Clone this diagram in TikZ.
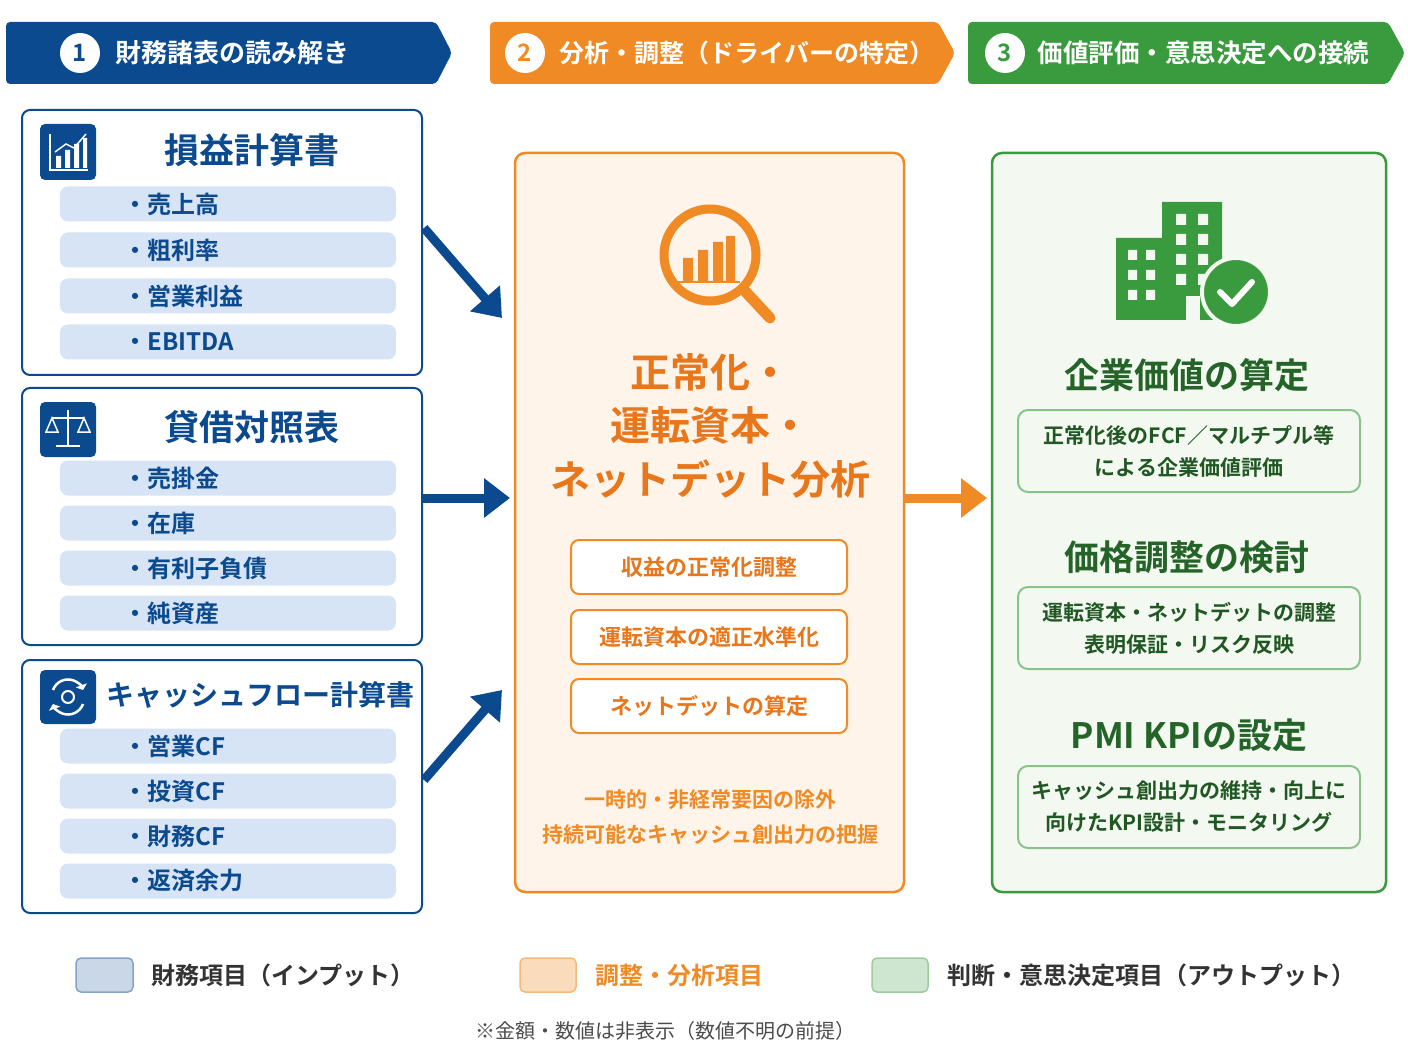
\documentclass[tikz,border=0pt]{standalone}
\usepackage{fontspec}
\setmainfont{Noto Sans CJK JP}[BoldFont={Noto Sans CJK JP Bold}]
\usetikzlibrary{arrows.meta,shapes.geometric}
\definecolor{nb}{HTML}{0B4A8F}
\definecolor{no}{HTML}{F08A24}
\definecolor{ng}{HTML}{3A9A3E}
\definecolor{lb}{HTML}{D6E4F5}
\definecolor{lo}{HTML}{FFF4EA}
\definecolor{lg}{HTML}{F3F9F1}
\definecolor{to}{HTML}{E8761A}
\definecolor{tg}{HTML}{2E7D32}
\newcommand{\fs}[1]{\fontsize{#1}{#1}\selectfont\bfseries}
\begin{document}
\begin{tikzpicture}[x=1pt,y=-1pt,
 item/.style={fill=lb,rounded corners=8pt,minimum width=336pt,minimum height=35pt,anchor=center},
 itemt/.style={font=\fs{24},text=nb,anchor=west},
 lbox/.style={draw=nb,line width=2pt,rounded corners=8pt,fill=white},
 ltitle/.style={font=\fs{35},text=nb},
 obox/.style={draw=no,line width=2pt,rounded corners=8pt,fill=white,minimum width=276pt,minimum height=54pt,font=\fs{22},text=to},
 gbox/.style={draw=ng!60,line width=2pt,rounded corners=10pt,fill=lg,minimum width=342pt,minimum height=82pt,font=\fs{21},text=tg!70!black,align=center},
 gtitle/.style={font=\fs{35},text=tg!80!black},
 bigarrow/.style={line width=9pt,-{Triangle[length=26pt,width=38pt]}},
]
\useasboundingbox (0,0) rectangle (1408,1056);
\fill[white] (0,0) rectangle (1408,1056);
% banners
\fill[nb,rounded corners=4pt] (6,22) -- (436,22) -- (452,53) -- (436,84) -- (6,84) -- cycle;
\fill[no,rounded corners=4pt] (490,22) -- (938,22) -- (955,53) -- (938,84) -- (490,84) -- cycle;
\fill[ng,rounded corners=4pt] (968,22) -- (1388,22) -- (1405,53) -- (1388,84) -- (968,84) -- cycle;
\node[circle,fill=white,minimum size=40pt,inner sep=0,font=\fs{24},text=nb] (c1) at (80,53) {1};
\node[circle,fill=white,minimum size=40pt,inner sep=0,font=\fs{24},text=no] (c2) at (525,53) {2};
\node[circle,fill=white,minimum size=40pt,inner sep=0,font=\fs{24},text=ng] (c3) at (1005,53) {3};
\node[anchor=west,font=\fs{26},text=white] (h1) at (112,53) {財務諸表の読み解き};
\node[anchor=west,font=\fs{25},text=white] (h2) at (556,53) {分析・調整（ドライバーの特定）};
\node[anchor=west,font=\fs{25.5},text=white] (h3) at (1034,53) {価値評価・意思決定への接続};
% left boxes
\draw[lbox] (22,110) rectangle (422,375);
\draw[lbox] (22,388) rectangle (422,645);
\draw[lbox] (22,660) rectangle (422,913);
% icons
\fill[nb,rounded corners=5pt] (40,124) rectangle (96,180);
\draw[white,line width=2pt] (50,134) -- (50,170) -- (88,170);
\fill[white] (56,156) rectangle (61,168) (65,150) rectangle (70,168) (74,144) rectangle (79,168) (83,138) rectangle (87,168);
\draw[white,line width=1.5pt] (55,152) -- (66,144) -- (74,148) -- (86,134);
\fill[nb,rounded corners=5pt] (40,402) rectangle (96,457);
\draw[white,line width=2pt] (68,410) -- (68,446) (56,446) -- (80,446) (52,418) -- (84,418);
\draw[white,line width=1.5pt] (52,418) -- (46,432) -- (58,432) -- cycle (84,418) -- (78,432) -- (90,432) -- cycle;
\fill[nb,rounded corners=5pt] (40,670) rectangle (96,724);
\draw[white,line width=2.5pt,-{Triangle[length=5pt]}] (53,690) arc (200:340:16);
\draw[white,line width=2.5pt,-{Triangle[length=5pt]}] (83,704) arc (20:160:16);
\draw[white,line width=2pt] (68,697) circle (6);
% titles
\node[ltitle] (t1) at (252,150) {損益計算書};
\node[ltitle] (t2) at (252,427) {貸借対照表};
\node[font=\fs{28},text=nb] (t3) at (260,695) {キャッシュフロー計算書};
% items
\foreach \y/\t [count=\i] in {204/売上高,250/粗利率,296/営業利益,342/EBITDA,478/売掛金,523/在庫,568/有利子負債,613/純資産,746/営業CF,791/投資CF,836/財務CF,881/返済余力}{
 \node[item] (it\i) at (228,\y) {};
 \node[itemt] (itt\i) at (120,\y) {・\t};
}
% middle
\draw[draw=no,line width=2.5pt,rounded corners=10pt,fill=lo] (515,153) rectangle (904,892);
\draw[no,line width=9pt] (710,255) circle (46);
\draw[no,line width=11pt,line cap=round] (744,290) -- (770,318);
\fill[no] (683,258) rectangle (693,282) (698,250) rectangle (708,282) (713,242) rectangle (723,282) (726,236) rectangle (735,282);
\draw[no,line width=2pt] (678,282) -- (740,282);
\node[font=\fs{40},text=to] (m1) at (710,372) {正常化・};
\node[font=\fs{40},text=to] (m2) at (710,425) {運転資本・};
\node[font=\fs{40},text=to] (m3) at (710,479) {ネットデット分析};
\node[obox] (b1) at (709,567) {収益の正常化調整};
\node[obox] (b2) at (709,637) {運転資本の適正水準化};
\node[obox] (b3) at (709,706) {ネットデットの算定};
\node[font=\fs{21},text=no] (n1) at (710,800) {一時的・非経常要因の除外};
\node[font=\fs{21},text=no] (n2) at (710,835) {持続可能なキャッシュ創出力の把握};
% right
\draw[draw=ng,line width=2.5pt,rounded corners=10pt,fill=lg] (992,153) rectangle (1386,892);
\fill[ng] (1116,238) rectangle (1162,320) (1162,202) rectangle (1222,320);
\fill[lg] foreach \xx in {1128,1146} {foreach \yy in {250,270,290} {(\xx,\yy) rectangle ++(9,10)}};
\fill[lg] foreach \xx in {1176,1198} {foreach \yy in {214,234,254,274} {(\xx,\yy) rectangle ++(10,11)}};
\fill[lg] (1186,296) rectangle (1200,320);
\fill[ng,draw=lg,line width=4pt] (1236,292) circle (34);
\draw[white,line width=6pt,line cap=round,line join=round] (1220,292) -- (1232,304) -- (1252,282);
\node[gtitle] (r1) at (1187,375) {企業価値の算定};
\node[gbox] (g1) at (1189,451) {正常化後のFCF／マルチプル等\\[11pt]による企業価値評価};
\node[gtitle] (r2) at (1187,557) {価格調整の検討};
\node[gbox] (g2) at (1189,628) {運転資本・ネットデットの調整\\[11pt]表明保証・リスク反映};
\node[gtitle] (r3) at (1189,735) {PMI KPIの設定};
\node[gbox] (g3) at (1189,807) {キャッシュ創出力の維持・向上に\\[11pt]向けたKPI設計・モニタリング};
% arrows
\coordinate (a1s) at (424,228); \coordinate (a1e) at (502,318);
\coordinate (a2s) at (422,498); \coordinate (a2e) at (510,498);
\coordinate (a3s) at (424,780); \coordinate (a3e) at (502,690);
\coordinate (a4s) at (904,498); \coordinate (a4e) at (987,498);
\draw[bigarrow,nb] (a1s) -- (a1e);
\draw[bigarrow,nb] (a2s) -- (a2e);
\draw[bigarrow,nb] (a3s) -- (a3e);
\draw[bigarrow,no] (a4s) -- (a4e);
% legend
\draw[nb!50,fill=nb!22,line width=1.5pt,rounded corners=5pt] (76,958) rectangle (133,992);
\draw[no!60,fill=no!30,line width=1.5pt,rounded corners=5pt] (520,958) rectangle (576,992);
\draw[ng!50,fill=ng!25,line width=1.5pt,rounded corners=5pt] (872,958) rectangle (928,992);
\node[anchor=west,font=\fs{24},text=black!80] (l1) at (148,975) {財務項目（インプット）};
\node[anchor=west,font=\fs{24},text=no] (l2) at (592,975) {調整・分析項目};
\node[anchor=west,font=\fs{24},text=black!80] (l3) at (944,975) {判断・意思決定項目（アウトプット）};
\node[font=\fontsize{20}{20}\selectfont,text=black!70] (ft) at (665,1031) {※金額・数値は非表示（数値不明の前提）};
\end{tikzpicture}
\end{document}
